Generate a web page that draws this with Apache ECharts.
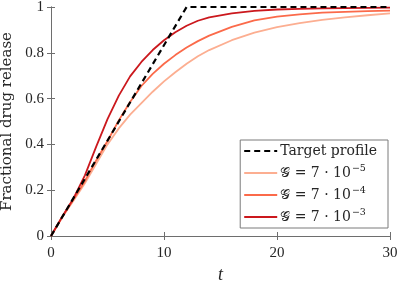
<!DOCTYPE html>
<html><head><meta charset="utf-8">
<script src="https://cdn.jsdelivr.net/npm/echarts@6/dist/echarts.min.js"></script>
<style>html,body{margin:0;padding:0;background:#fff}#c{width:399px;height:281px}</style>
</head><body><div id="c"></div>
<script>
var tValues = [0,1,2,3,4,5,6,7,8,9,10,11,12,13,14,16,18,20,22,24,26,28,30];
var targetT = [0,12,30];
var targetV = [0,1,1];
var g5 = [0,0.083,0.155,0.23,0.315,0.40,0.47,0.53,0.58,0.63,0.675,0.715,0.752,0.785,0.812,0.855,0.888,0.912,0.93,0.944,0.955,0.964,0.972];
var g4 = [0,0.083,0.16,0.24,0.33,0.415,0.505,0.585,0.655,0.708,0.752,0.79,0.823,0.851,0.875,0.913,0.942,0.958,0.968,0.975,0.979,0.982,0.984];
var g3 = [0,0.085,0.165,0.265,0.39,0.51,0.613,0.697,0.76,0.812,0.855,0.89,0.918,0.94,0.955,0.972,0.983,0.989,0.992,0.994,0.995,0.996,0.997];
var names = ['Target profile','G5','G4','G3'];
var legendLabels = {
  'Target profile': 'Target profile',
  'G5': '{n|\uD835\uDCA2 = 7 · 10}{s|−5}',
  'G4': '{n|\uD835\uDCA2 = 7 · 10}{s|−4}',
  'G3': '{n|\uD835\uDCA2 = 7 · 10}{s|−3}'
};
var xTicks = [0,10,20,30];
var yTicks = [0,0.2,0.4,0.6,0.8,1];

function pairs(xs, ys){ return xs.map(function(x,i){ return [x, ys[i]]; }); }
var serif = '"Liberation Serif","DejaVu Serif",serif';
var lserif = '"DejaVu Serif","Liberation Serif",serif';
var axisCol = '#6e6e6e';

var chart = echarts.init(document.getElementById('c'), null, {renderer:'canvas'});
chart.setOption({
  animation:false,
  backgroundColor:'#fff',
  grid:{left:51,right:9,top:7,bottom:45,outerBoundsMode:'none',containLabel:false},
  xAxis:[{
    type:'value',min:0,max:30,interval:10,
    axisLine:{lineStyle:{color:axisCol,width:1}},
    axisTick:{inside:true,length:4,lineStyle:{color:axisCol}},
    axisLabel:{color:'#262626',fontFamily:serif,fontSize:15,margin:10},
    splitLine:{show:false},
    name:'t',nameLocation:'middle',nameGap:29,
    nameTextStyle:{fontFamily:serif,fontStyle:'italic',fontSize:18,color:'#262626'}
  },{
    type:'value',position:'top',min:0,max:30,interval:10,
    axisLine:{show:true,lineStyle:{color:axisCol,width:1}},
    axisTick:{inside:true,length:4,lineStyle:{color:axisCol}},
    axisLabel:{show:false},splitLine:{show:false}
  }],
  yAxis:[{
    type:'value',min:0,max:1,interval:0.2,
    axisLine:{show:true,lineStyle:{color:axisCol,width:1}},
    axisTick:{show:true,inside:true,length:4,lineStyle:{color:axisCol}},
    axisLabel:{color:'#262626',fontFamily:serif,fontSize:15,margin:7,
      formatter:function(v){return String(Math.round(v*10)/10);}},
    splitLine:{show:false},
    name:'Fractional drug release',nameLocation:'middle',nameGap:33,
    nameTextStyle:{fontFamily:lserif,fontSize:15,color:'#262626'}
  },{
    type:'value',position:'right',min:0,max:1,interval:0.2,
    axisLine:{show:true,lineStyle:{color:axisCol,width:1}},
    axisTick:{show:true,inside:true,length:4,lineStyle:{color:axisCol}},
    axisLabel:{show:false},splitLine:{show:false}
  }],
  legend:{
    orient:'vertical',right:11,top:140,
    data:names,
    backgroundColor:'#fff',borderColor:'#7a7a7a',borderWidth:1,borderRadius:0,
    padding:[4,11,4,3],itemGap:6,itemWidth:33,itemHeight:15,
    itemStyle:{opacity:0},
    formatter:function(n){return legendLabels[n];},
    textStyle:{fontFamily:lserif,fontSize:14,color:'#262626',padding:[0,0,0,-2],
      rich:{n:{fontFamily:lserif,fontSize:14,color:'#262626'},
            s:{fontFamily:lserif,fontSize:9.5,color:'#262626',verticalAlign:'top',padding:[0,0,8,1]}}}
  },
  series:[
    {name:'Target profile',type:'line',data:pairs(targetT,targetV),symbol:'none',z:5,
     lineStyle:{color:'#000',width:2.2,type:[6,4]},itemStyle:{color:'#000'}},
    {name:'G5',type:'line',data:pairs(tValues,g5),symbol:'none',
     lineStyle:{color:'#fcae91',width:1.8},itemStyle:{color:'#fcae91'}},
    {name:'G4',type:'line',data:pairs(tValues,g4),symbol:'none',
     lineStyle:{color:'#fb6a4a',width:1.8},itemStyle:{color:'#fb6a4a'}},
    {name:'G3',type:'line',data:pairs(tValues,g3),symbol:'none',
     lineStyle:{color:'#cb181d',width:1.8},itemStyle:{color:'#cb181d'}}
  ]
});
</script></body></html>
